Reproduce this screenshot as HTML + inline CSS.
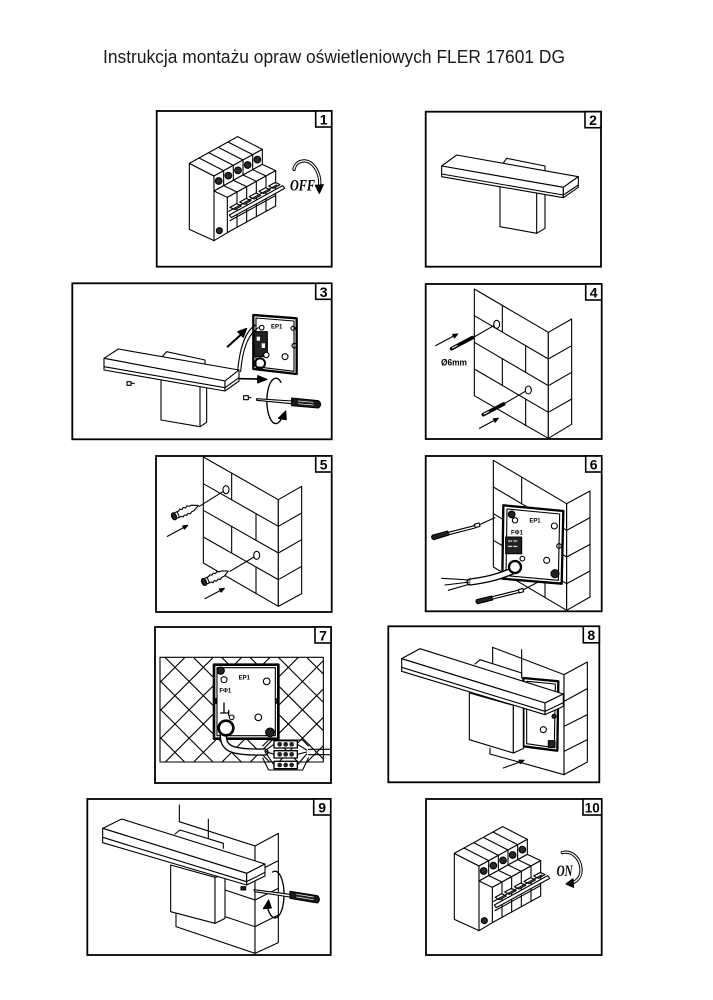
<!DOCTYPE html>
<html><head><meta charset="utf-8"><style>
html,body{margin:0;padding:0;background:#fff;}
svg{display:block;}
</style></head><body>
<svg width="713" height="1000" viewBox="0 0 713 1000" xmlns="http://www.w3.org/2000/svg" xmlns:xlink="http://www.w3.org/1999/xlink">
<defs>
<g id="breaker" fill="none" stroke="#000" stroke-width="3.3" stroke-linejoin="round" stroke-linecap="round">
  <path d="M118,190 L118,388 L192,422 L192,228 Z" fill="#fff"/>
  <path d="M118,190 L263,110 L337,148 L192,228 Z" fill="#fff"/>
  <path d="M147,174 L221,212 M176,158 L250,196 M205,142 L279,180 M234,126 L308,164"/>
  <path d="M192,228 L337,148 L337,193 L192,273 Z" fill="#fff"/>
  <path d="M221,212 V257 M250,196 V241 M279,180 V225 M308,164 V209"/>
  <g fill="#2a2a2a">
    <circle cx="206" cy="243" r="10"/><circle cx="235" cy="227" r="10"/><circle cx="264" cy="211" r="10"/><circle cx="293" cy="195" r="10"/><circle cx="322" cy="179" r="10"/>
  </g>
  <path d="M192,273 L337,193 L377,212 L232,292 Z" fill="#fff"/>
  <path d="M221,257 L261,276 M250,241 L290,260 M279,225 L319,244 M308,209 L348,228"/>
  <path d="M232,292 L377,212 L377,318 L232,398 Z" fill="#fff"/>
  <path d="M261,276 V382 M290,260 V366 M319,244 V350 M348,228 V334"/>
  <path d="M192,422 L232,398"/>
  <path d="M240,322 l20,-11 l14,7 l-20,11 z M269,306 l20,-11 l14,7 l-20,11 z M298,290 l20,-11 l14,7 l-20,11 z M327,274 l20,-11 l14,7 l-20,11 z M356,258 l20,-11 l14,7 l-20,11 z" fill="#fff"/>
  <path d="M238,345 L398,257 L404,265 L244,353 Z" fill="#fff"/>
  <path d="M236,334 L380,255 M240,362 L376,287"/>
  <circle cx="208" cy="392" r="9" fill="#2a2a2a"/>
</g>
<clipPath id="c7" clipPathUnits="userSpaceOnUse"><rect x="30" y="118" width="490" height="314"/></clipPath>
</defs>
<rect width="713" height="1000" fill="#fff"/>
<text x="103" y="63" font-family="Liberation Sans, sans-serif" font-size="18" fill="#1a1a1a" textLength="462" lengthAdjust="spacingAndGlyphs">Instrukcja montażu opraw oświetleniowych FLER 17601 DG</text>

<!-- Panel 1 -->
<g transform="translate(150,100) scale(0.33333)" fill="none" stroke="#000" stroke-width="3.3" stroke-linejoin="round" stroke-linecap="round">
  <use xlink:href="#breaker" href="#breaker"/>
  <text x="420" y="272" font-family="Liberation Serif, serif" font-style="italic" font-weight="bold" font-size="46" fill="#000" stroke="none" textLength="75" lengthAdjust="spacingAndGlyphs">OFF</text>
  <path d="M432,208 C436,182 468,174 488,194 C506,212 512,240 508,260" stroke-width="10"/>
  <path d="M432,208 C436,182 468,174 488,194 C506,212 512,240 508,260" stroke="#fff" stroke-width="4"/>
  <path d="M496,256 L520,254 L508,280 Z" fill="#000"/>
</g>

<!-- Panel 2 -->
<g transform="translate(415,100) scale(0.33333)" fill="none" stroke="#000" stroke-width="3.3" stroke-linejoin="round" stroke-linecap="round">
  <path d="M255,250 L255,380 L365,400 L365,260" fill="#fff"/>
  <path d="M365,400 L390,385 L390,265"/>
  <path d="M263,192 L275,175 L390,198 L390,215" fill="#fff"/>
  <path d="M80,198 L125,165 L490,230 L445,262 Z" fill="#fff"/>
  <path d="M80,198 L445,262 L445,293 L80,230 Z" fill="#fff"/>
  <path d="M445,262 L490,230 L490,262 L445,293 Z" fill="#fff"/>
  <path d="M80,222 L445,285 L490,255"/>
</g>

<!-- Panel 3 -->
<g transform="translate(65,275) scale(0.33333)" fill="none" stroke="#000" stroke-width="3.3" stroke-linejoin="round" stroke-linecap="round">
  <path d="M288,300 L288,435 L405,455 L405,320" fill="#fff"/>
  <path d="M405,455 L425,442 L425,320"/>
  <path d="M292,245 L305,230 L420,255 L420,272" fill="#fff"/>
  <path d="M117,250 L160,222 L522,285 L480,318 Z" fill="#fff"/>
  <path d="M117,250 L480,318 L480,348 L117,285 Z" fill="#fff"/>
  <path d="M480,318 L522,285 L522,318 L480,348 Z" fill="#fff"/>
  <path d="M117,275 L480,338 L522,308"/>
  <path d="M186,320 h12 v11 h-12 z M198,325 h10"/>
  <path d="M565,120 L695,130 L695,297 L565,282 Z" fill="#fff" stroke-width="7"/>
  <path d="M573,129 L687,138 L687,289 L573,275 Z"/>
  <rect x="567" y="170" width="40" height="75" fill="#222"/>
  <rect x="575" y="185" width="10" height="12" fill="#fff" stroke="none"/>
  <rect x="590" y="205" width="10" height="14" fill="#fff" stroke="none"/>
  <circle cx="590" cy="158" r="7"/><circle cx="684" cy="160" r="6"/><circle cx="688" cy="212" r="7"/><circle cx="660" cy="245" r="9"/><circle cx="604" cy="240" r="8" fill="#fff"/>
  <circle cx="585" cy="265" r="15" stroke-width="6"/>
  <text x="618" y="160" font-family="Liberation Sans, sans-serif" font-weight="bold" font-size="18" fill="#000" stroke="none">EP1</text>
  <path d="M572,150 C545,165 525,210 518,288"/>
  <path d="M580,158 C553,175 533,215 527,290"/>
  <path d="M488,215 L530,177" stroke-width="6"/>
  <path d="M545,160 L518,170 L535,187 Z" fill="#000"/>
  <path d="M525,311 L582,312" stroke-width="5"/>
  <path d="M606,313 L578,302 L578,324 Z" fill="#000"/>
  <path d="M648,322 A27,68 0 1 0 652,425" stroke-width="4"/>
  <path d="M640,430 L662,408 L664,434 Z" fill="#000"/>
  <path d="M536,362 h14 v12 h-14 z M550,368 h8"/>
  <path d="M575,371 L680,378 L680,386 L575,376 Z" fill="#fff"/>
  <path d="M680,369 L760,377 Q774,388 760,399 L680,392 Z" fill="#1a1a1a"/>
  <path d="M700,378 L745,382 M700,386 L745,390" stroke="#fff" stroke-width="2"/>
</g>

<!-- Panel 4 -->
<g transform="translate(415,275) scale(0.33333)" fill="none" stroke="#000" stroke-width="3.3" stroke-linejoin="round" stroke-linecap="round">
  <path d="M178,42 L400,172 L400,490 L178,362 Z" fill="#fff"/>
  <path d="M400,172 L470,132 L470,448 L400,490 Z" fill="#fff"/>
  <path d="M178,122 L400,252 M178,202 L400,332 M178,282 L400,412"/>
  <path d="M400,252 L470,212 M400,332 L470,292 M400,412 L470,372"/>
  <path d="M262,91 V171 M332,212 V292 M262,251 V331 M332,372 V452"/>
  <ellipse cx="245" cy="148" rx="9" ry="12" fill="#fff"/>
  <ellipse cx="340" cy="345" rx="9" ry="12" fill="#fff"/>
  <path d="M236,152 L172,189 M331,349 L266,387"/>
  <path d="M110,221 L172,188" stroke-width="11"/>
  <path d="M112,219 L126,212" stroke="#fff" stroke-width="3"/>
  <path d="M205,419 L266,387" stroke-width="11"/>
  <path d="M207,417 L221,410" stroke="#fff" stroke-width="3"/>
  <path d="M62,212 L118,182"/>
  <path d="M128,177 L118.5,188.9 L112.9,178.3 Z" fill="#000"/>
  <path d="M193,460 L240,435"/>
  <path d="M250,430 L240.5,441.9 L234.9,431.3 Z" fill="#000"/>
  <text x="78" y="272" font-family="Liberation Sans, sans-serif" font-weight="bold" font-size="27" fill="#000" stroke="none" textLength="78" lengthAdjust="spacingAndGlyphs">Ø6mm</text>
</g>

<!-- Panel 5 -->
<g transform="translate(150,447) scale(0.33333)" fill="none" stroke="#000" stroke-width="3.3" stroke-linejoin="round" stroke-linecap="round">
  <path d="M160,30 L385,158 L385,478 L160,348 Z" fill="#fff"/>
  <path d="M385,158 L455,118 L455,440 L385,478 Z" fill="#fff"/>
  <path d="M160,110 L385,238 M160,190 L385,318 M160,270 L385,398"/>
  <path d="M385,238 L455,198 M385,318 L455,278 M385,398 L455,358"/>
  <path d="M245,78 V158 M318,200 V280 M245,238 V318 M318,360 V440"/>
  <ellipse cx="228" cy="128" rx="9" ry="12" fill="#fff"/>
  <ellipse cx="320" cy="325" rx="9" ry="12" fill="#fff"/>
  <path d="M220,133 L148,178 M312,330 L240,373"/>
  <g transform="translate(72,208) rotate(-24)">
    <path d="M0,-9 L20,-9 L24,-13 L30,-9 L36,-13 L42,-9 L48,-13 L54,-9 L62,-9 L80,0 L62,9 L54,9 L48,13 L42,9 L36,13 L30,9 L24,13 L20,9 L0,9 Z" fill="#fff"/>
    <ellipse cx="0" cy="0" rx="7" ry="11" fill="#222"/>
    <path d="M14,-9 V9"/>
  </g>
  <g transform="translate(162,405) rotate(-24)">
    <path d="M0,-9 L20,-9 L24,-13 L30,-9 L36,-13 L42,-9 L48,-13 L54,-9 L62,-9 L80,0 L62,9 L54,9 L48,13 L42,9 L36,13 L30,9 L24,13 L20,9 L0,9 Z" fill="#fff"/>
    <ellipse cx="0" cy="0" rx="7" ry="11" fill="#222"/>
    <path d="M14,-9 V9"/>
  </g>
  <path d="M52,268 L104,240"/>
  <path d="M113,235 L103.3,246.4 L98.1,236.8 Z" fill="#000"/>
  <path d="M165,455 L214,429"/>
  <path d="M223,424 L213.3,435.4 L208.1,425.8 Z" fill="#000"/>
</g>

<!-- Panel 6 -->
<g transform="translate(415,447) scale(0.33333)" fill="none" stroke="#000" stroke-width="3.3" stroke-linejoin="round" stroke-linecap="round">
  <path d="M235,40 L455,170 L455,490 L235,360 Z" fill="#fff"/>
  <path d="M455,170 L525,132 L525,450 L455,490 Z" fill="#fff"/>
  <path d="M235,120 L455,250 M235,200 L455,330 M235,280 L455,410"/>
  <path d="M455,250 L525,212 M455,330 L525,292 M455,410 L525,372"/>
  <path d="M320,90 V170 M390,372 V452"/>
  <path d="M265,175 L445,192 L440,410 L262,395 Z" fill="#fff" stroke-width="7"/>
  <path d="M276,186 L434,201 L430,400 L273,386 Z"/>
  <rect x="272" y="270" width="48" height="50" fill="#222"/>
  <path d="M280,282 h10 M296,282 h10 M280,298 h10 M296,298 h10" stroke="#fff" stroke-width="3"/>
  <circle cx="290" cy="202" r="10" fill="#222"/>
  <circle cx="420" cy="380" r="12" fill="#222"/>
  <circle cx="300" cy="220" r="8"/><circle cx="418" cy="237" r="9"/><circle cx="395" cy="340" r="9"/><circle cx="322" cy="335" r="7"/><circle cx="432" cy="297" r="7"/>
  <text x="343" y="226" font-family="Liberation Sans, sans-serif" font-weight="bold" font-size="18" fill="#000" stroke="none">EP1</text>
  <text x="288" y="262" font-family="Liberation Sans, sans-serif" font-weight="bold" font-size="18" fill="#000" stroke="none">FΦ1</text>
  <path d="M292,372 C255,388 220,398 165,405" stroke-width="22"/>
  <path d="M292,372 C255,388 220,398 165,405" stroke="#fff" stroke-width="14"/>
  <circle cx="300" cy="360" r="18" fill="#fff" stroke-width="7"/>
  <path d="M165,399 L80,394 M165,405 L90,414 M165,411 L100,430"/>
  <path d="M52,265 L98,252 L102,264 L56,278 Q46,272 52,265 Z" fill="#222"/>
  <path d="M100,256 L178,236 M102,263 L180,243"/>
  <path d="M178,232 l14,-4 l3,10 l-14,4 z" fill="#fff"/>
  <path d="M195,232 L240,212"/>
  <path d="M185,458 L230,447 L233,459 L188,470 Q179,465 185,458 Z" fill="#222"/>
  <path d="M232,449 L308,430 M234,456 L310,437"/>
  <path d="M310,428 l13,-4 l3,10 l-13,4 z" fill="#fff"/>
  <path d="M326,428 L372,404"/>
</g>

<!-- Panel 7 -->
<g transform="translate(150,618) scale(0.33333)" fill="none" stroke="#000" stroke-width="3.3" stroke-linejoin="round" stroke-linecap="round">
  <g clip-path="url(#c7)">
    <path d="M-295,118 L19,432 M-210,118 L104,432 M-125,118 L189,432 M-40,118 L274,432 M45,118 L359,432 M130,118 L444,432 M215,118 L529,432 M300,118 L614,432 M385,118 L699,432 M470,118 L784,432"/>
    <path d="M105,118 L-209,432 M190,118 L-124,432 M275,118 L-39,432 M360,118 L46,432 M445,118 L131,432 M530,118 L216,432 M615,118 L301,432 M700,118 L386,432 M785,118 L471,432 M870,118 L556,432"/>
  </g>
  <rect x="30" y="118" width="490" height="314"/>
  <rect x="192" y="140" width="193" height="222" fill="#fff" stroke-width="8"/>
  <rect x="201" y="149" width="175" height="204"/>
  <circle cx="212" cy="158" r="11" fill="#222"/>
  <circle cx="360" cy="343" r="13" fill="#222"/>
  <circle cx="222" cy="185" r="9"/><circle cx="350" cy="190" r="10"/><circle cx="325" cy="298" r="10"/><circle cx="245" cy="298" r="7"/>
  <text x="266" y="184" font-family="Liberation Sans, sans-serif" font-weight="bold" font-size="18" fill="#000" stroke="none">EP1</text>
  <text x="208" y="224" font-family="Liberation Sans, sans-serif" font-weight="bold" font-size="18" fill="#000" stroke="none">FΦ1</text>
  <path d="M198,242 v14 M378,242 v14" stroke-width="5"/>
  <path d="M222,255 V283 M212,285 H236 M236,278 V292" stroke-width="4"/>
  <path d="M220,345 C218,392 240,404 345,402" stroke-width="22"/>
  <path d="M220,345 C218,392 240,404 345,402" stroke="#fff" stroke-width="14"/>
  <circle cx="228" cy="330" r="22" fill="#fff" stroke-width="8"/>
  <path d="M345,398 L372,379 M345,400 L372,409 M345,402 L372,441"/>
  <path d="M442,379 L470,396 M442,409 L470,402 M442,441 L470,408"/>
  <path d="M338,384 L356,366 L458,366 L475,384 M338,420 L356,456 L458,456 L475,420"/>
  <rect x="372" y="368" width="70" height="22" fill="#fff" stroke-width="4"/>
  <rect x="372" y="398" width="70" height="22" fill="#fff" stroke-width="4"/>
  <rect x="372" y="430" width="70" height="22" fill="#fff" stroke-width="4"/>
  <g fill="#222" stroke="none">
    <circle cx="389" cy="379" r="7"/><circle cx="407" cy="379" r="7"/><circle cx="425" cy="379" r="7"/>
    <circle cx="389" cy="409" r="7"/><circle cx="407" cy="409" r="7"/><circle cx="425" cy="409" r="7"/>
    <circle cx="389" cy="441" r="7"/><circle cx="407" cy="441" r="7"/><circle cx="425" cy="441" r="7"/>
  </g>
  <path d="M475,394 L540,394 M475,410 L540,410"/>
</g>

<!-- Panel 8 -->
<g transform="translate(380,618) scale(0.33333)" fill="none" stroke="#000" stroke-width="3.3" stroke-linejoin="round" stroke-linecap="round">
  <path d="M338,88 L552,170 L552,470 L330,408 L330,390" fill="#fff"/>
  <path d="M552,170 L622,132 L622,432 L552,470 Z" fill="#fff"/>
  <path d="M552,250 L622,212 M552,325 L622,290 M552,400 L622,365"/>
  <path d="M338,88 V150 M425,95 V175"/>
  <path d="M430,180 L535,190 L532,398 L430,385 Z" fill="#fff" stroke-width="7"/>
  <path d="M440,190 L526,198 L523,389 L440,377 Z"/>
  <circle cx="490" cy="335" r="9"/>
  <rect x="505" y="368" width="20" height="20" fill="#222"/>
  <circle cx="522" cy="295" r="6" fill="#222"/>
  <path d="M285,138 L300,125 L425,165 L425,180" fill="#fff"/>
  <path d="M268,225 L400,262 L400,405 L268,365 Z" fill="#fff"/>
  <path d="M400,262 L430,252 L430,392 L400,405 Z" fill="#fff"/>
  <path d="M65,122 L120,92 L550,228 L495,255 Z" fill="#fff"/>
  <path d="M65,122 L495,255 L495,290 L65,160 Z" fill="#fff"/>
  <path d="M495,255 L550,228 L550,265 L495,290 Z" fill="#fff"/>
  <path d="M65,148 L495,280 L550,254"/>
  <path d="M370,450 L420,432"/>
  <path d="M432,427 L420.7,437 L416.9,426.6 Z" fill="#000"/>
</g>

<!-- Panel 9 -->
<g transform="translate(80,790) scale(0.33333)" fill="none" stroke="#000" stroke-width="3.3" stroke-linejoin="round" stroke-linecap="round">
  <path d="M298,95 L525,168 L525,490 L288,410 L288,365" fill="#fff"/>
  <path d="M525,168 L595,130 L595,458 L525,490 Z" fill="#fff"/>
  <path d="M298,45 V95 M385,88 V148"/>
  <path d="M525,248 L595,212 M525,330 L595,295 M525,410 L595,375"/>
  <path d="M435,300 L525,330 M435,380 L525,410"/>
  <path d="M285,132 L300,120 L430,160 L430,175" fill="#fff"/>
  <path d="M272,225 L405,262 L405,400 L272,365 Z" fill="#fff"/>
  <path d="M405,262 L435,255 L435,385 L405,400 Z" fill="#fff"/>
  <path d="M68,115 L125,87 L555,222 L500,250 Z" fill="#fff"/>
  <path d="M68,115 L500,250 L500,285 L68,158 Z" fill="#fff"/>
  <path d="M500,250 L555,222 L555,258 L500,285 Z" fill="#fff"/>
  <path d="M68,142 L500,275 L555,247"/>
  <path d="M483,290 h14 v10 h-14 z" fill="#222"/>
  <path d="M578,246 A27,70 0 1 1 562,350" stroke-width="4"/>
  <path d="M566,330 L550,356 L574,354 Z" fill="#000"/>
  <path d="M522,299 L630,313 L630,321 L524,305 Z" fill="#fff"/>
  <path d="M630,304 L712,317 Q724,328 712,339 L630,325 Z" fill="#1a1a1a"/>
  <path d="M650,313 L700,321 M650,321 L700,329" stroke="#fff" stroke-width="2"/>
</g>

<!-- Panel 10 -->
<g transform="translate(415,790) scale(0.33333)" fill="none" stroke="#000" stroke-width="3.3" stroke-linejoin="round" stroke-linecap="round">
  <use xlink:href="#breaker" href="#breaker"/>
  <text x="425" y="258" font-family="Liberation Serif, serif" font-style="italic" font-weight="bold" font-size="46" fill="#000" stroke="none" textLength="48" lengthAdjust="spacingAndGlyphs">ON</text>
  <path d="M442,188 C470,180 495,205 498,235 C500,258 488,272 472,279" stroke-width="10"/>
  <path d="M442,188 C470,180 495,205 498,235 C500,258 488,272 472,279" stroke="#fff" stroke-width="4"/>
  <path d="M474,266 L476,292 L453,282 Z" fill="#000"/>
</g>

<!-- Panel frames -->
<g fill="none" stroke="#000" stroke-width="1.8">
  <rect x="156.7" y="111" width="175" height="155.7"/>
  <rect x="425.7" y="111.7" width="175.3" height="155"/>
  <rect x="72.3" y="283.3" width="259.4" height="156"/>
  <rect x="425.7" y="284" width="176" height="155"/>
  <rect x="156" y="456" width="175.7" height="156"/>
  <rect x="425.7" y="456" width="176" height="155.3"/>
  <rect x="155" y="627" width="176" height="156"/>
  <rect x="388.3" y="626.3" width="211" height="156"/>
  <rect x="87.3" y="799" width="243.4" height="156"/>
  <rect x="426" y="799" width="175.7" height="156"/>
</g>
<!-- Number boxes -->
<g fill="#fff" stroke="#000" stroke-width="1.6">
  <rect x="315.7" y="111" width="16" height="16"/>
  <rect x="585" y="111.7" width="16" height="16"/>
  <rect x="315.7" y="283.3" width="16" height="16"/>
  <rect x="585.7" y="284" width="16" height="16"/>
  <rect x="315.7" y="456" width="16" height="16"/>
  <rect x="585.7" y="456" width="16" height="16"/>
  <rect x="315" y="627" width="16" height="16"/>
  <rect x="583.3" y="626.3" width="16" height="16.5"/>
  <rect x="313.7" y="799" width="17" height="16"/>
  <rect x="583" y="799" width="18.7" height="16"/>
</g>
<g font-family="Liberation Sans, sans-serif" font-weight="bold" font-size="14" fill="#000" text-anchor="middle">
  <text x="323.7" y="124.5">1</text>
  <text x="593" y="125.2">2</text>
  <text x="323.7" y="296.8">3</text>
  <text x="593.7" y="297.5">4</text>
  <text x="323.7" y="469.5">5</text>
  <text x="593.7" y="469.5">6</text>
  <text x="323" y="640.5">7</text>
  <text x="591.3" y="640">8</text>
  <text x="322.2" y="812.5">9</text>
  <text x="592.3" y="812.5" textLength="15" lengthAdjust="spacingAndGlyphs">10</text>
</g>
</svg>
</body></html>
